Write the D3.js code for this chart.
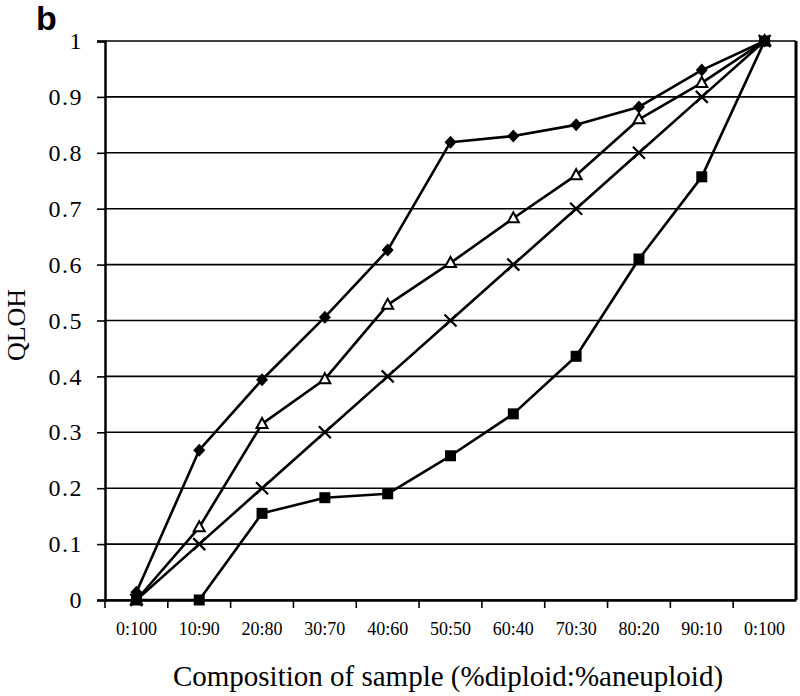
<!DOCTYPE html>
<html>
<head>
<meta charset="utf-8">
<script src="https://cdn.jsdelivr.net/npm/d3@7"></script>
<style>
  body { margin: 0; background: #fff; }
  svg { display: block; }
</style>
</head>
<body>
<div id="chart"></div>
<script>
const categories = ['0:100', '10:90', '20:80', '30:70', '40:60', '50:50', '60:40', '70:30', '80:20', '90:10', '0:100'];
const diamondValues = [0.014, 0.268, 0.394, 0.506, 0.626, 0.819, 0.830, 0.850, 0.882, 0.948, 1.0];
const triangleValues = [0.0, 0.13, 0.315, 0.395, 0.528, 0.603, 0.683, 0.760, 0.860, 0.925, 1.0];
const crossValues = [0.0, 0.1, 0.2, 0.3, 0.4, 0.5, 0.6, 0.7, 0.8, 0.9, 1.0];
const squareValues = [0.0, 0.0, 0.155, 0.183, 0.19, 0.258, 0.333, 0.436, 0.61, 0.757, 1.0];
const yTicks = [0, 0.1, 0.2, 0.3, 0.4, 0.5, 0.6, 0.7, 0.8, 0.9, 1];

const width = 800;
const height = 696;
const margin = { top: 41, right: 4, bottom: 96, left: 105 };
const serif = '"Liberation Serif", "Times New Roman", serif';

const svg = d3.select('#chart')
  .append('svg')
  .attr('width', width)
  .attr('height', height)
  .style('font-family', serif);

const x = d3.scaleBand()
  .domain(d3.range(categories.length))
  .range([margin.left, width - margin.right]);
const y = d3.scaleLinear()
  .domain([0, 1])
  .range([height - margin.bottom, margin.top]);

// horizontal grid
svg.append('g')
  .selectAll('line')
  .data(yTicks)
  .join('line')
  .attr('x1', margin.left)
  .attr('x2', width - margin.right)
  .attr('y1', (d) => y(d))
  .attr('y2', (d) => y(d))
  .attr('stroke', '#000')
  .attr('stroke-width', 1.6);

// right border
svg.append('line')
  .attr('x1', width - margin.right)
  .attr('x2', width - margin.right)
  .attr('y1', y(1))
  .attr('y2', y(0))
  .attr('stroke', '#000')
  .attr('stroke-width', 3);

// y axis
const yAxis = svg.append('g')
  .attr('transform', `translate(${margin.left},0)`)
  .call(d3.axisLeft(y).tickValues(yTicks).tickFormat((d) => String(+d.toFixed(1))).tickSize(8).tickPadding(14));
yAxis.attr('font-family', serif).attr('font-size', 24);
yAxis.select('.domain').attr('stroke-width', 2.5);
yAxis.selectAll('.tick line').attr('stroke-width', 1.6);
yAxis.selectAll('.tick text')
  .style('letter-spacing', '1.5px')
  .attr('fill', '#000');

// x axis
const xAxis = svg.append('g')
  .attr('transform', `translate(0,${y(0)})`)
  .call(d3.axisBottom(x).tickFormat((i) => categories[i]).tickSize(0).tickPadding(22));
xAxis.attr('font-family', serif).attr('font-size', 18);
xAxis.select('.domain').attr('stroke-width', 2.5);
xAxis.selectAll('.tick text').attr('fill', '#000');
// tick marks sit on band boundaries
xAxis.selectAll('line.bound')
  .data(d3.range(categories.length))
  .join('line')
  .attr('class', 'bound')
  .attr('x1', (i) => x(i))
  .attr('x2', (i) => x(i))
  .attr('y1', 0)
  .attr('y2', 8)
  .attr('stroke', '#000')
  .attr('stroke-width', 1.6);

const cx = (i) => x(i) + x.bandwidth() / 2;
const line = d3.line().x((d, i) => cx(i)).y((d) => y(d));

const series = [
  { values: diamondValues, marker: 'diamond' },
  { values: triangleValues, marker: 'triangle' },
  { values: crossValues, marker: 'cross' },
  { values: squareValues, marker: 'square' },
];

const plot = svg.append('g');
plot.selectAll('path.series')
  .data(series)
  .join('path')
  .attr('class', 'series')
  .attr('d', (s) => line(s.values))
  .attr('fill', 'none')
  .attr('stroke', '#000')
  .attr('stroke-width', 2.6)
  .attr('stroke-linejoin', 'round');

series.forEach((s) => {
  const g = plot.append('g');
  const pts = g.selectAll('g')
    .data(s.values)
    .join('g')
    .attr('transform', (d, i) => `translate(${cx(i)},${y(d)})`);
  if (s.marker === 'diamond') {
    pts.append('path')
      .attr('d', 'M0,-6.5L6,0L0,6.5L-6,0Z')
      .attr('fill', '#000');
  } else if (s.marker === 'triangle') {
    pts.append('path')
      .attr('d', 'M0,-6L5.5,4L-5.5,4Z')
      .attr('fill', '#fff')
      .attr('stroke', '#000')
      .attr('stroke-width', 2);
  } else if (s.marker === 'cross') {
    pts.append('path')
      .attr('d', 'M-6,-6L6,6M6,-6L-6,6')
      .attr('stroke', '#000')
      .attr('stroke-width', 2.2);
  } else {
    pts.append('rect')
      .attr('x', -5.5)
      .attr('y', -5.5)
      .attr('width', 11)
      .attr('height', 11)
      .attr('fill', '#000');
  }
});

// titles
svg.append('text')
  .attr('x', 448)
  .attr('y', 686)
  .attr('text-anchor', 'middle')
  .style('font-size', '29px')
  .text('Composition of sample (%diploid:%aneuploid)');

svg.append('text')
  .attr('transform', 'translate(25,325) rotate(-90)')
  .attr('text-anchor', 'middle')
  .style('font-size', '26px')
  .text('QLOH');

svg.append('text')
  .attr('x', 36)
  .attr('y', 30)
  .style('font-family', '"Liberation Sans", Arial, sans-serif')
  .style('font-weight', 'bold')
  .style('font-size', '34px')
  .text('b');
</script>
</body>
</html>
